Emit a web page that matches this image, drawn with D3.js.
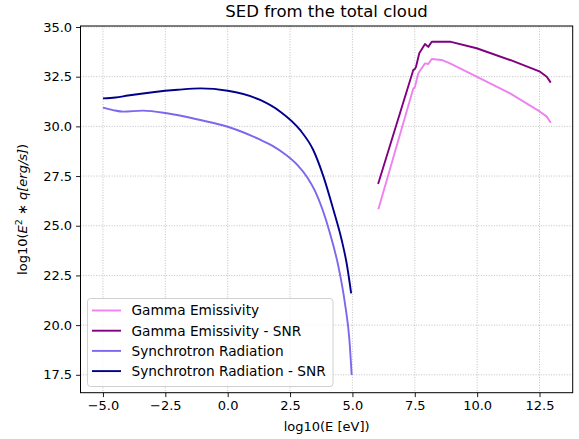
<!DOCTYPE html>
<html>
<head>
<meta charset="utf-8">
<script src="https://cdn.jsdelivr.net/npm/d3@7"></script>
<style>
  html, body { margin: 0; padding: 0; background: #fff; }
  svg { display: block; font-family: "DejaVu Sans", sans-serif; }
</style>
</head>
<body>
<div id="chart"></div>
<script>
// ---- data ----
const title = "SED from the total cloud";
const xLabel = "log10(E [eV])";
const seriesNames = ["Gamma Emissivity", "Gamma Emissivity - SNR", "Synchrotron Radiation", "Synchrotron Radiation - SNR"];
const seriesColors = ["violet", "purple", "mediumslateblue", "darkblue"];

const gammaX = [6.04, 7.44, 7.5, 7.64, 7.91, 8.04, 8.18, 8.58, 8.91, 9.98, 11.32, 12.52, 12.79, 12.95];
const gammaY = [25.83, 31.91, 31.95, 32.67, 33.17, 33.14, 33.39, 33.34, 33.17, 32.5, 31.66, 30.74, 30.49, 30.18];

const gammaSnrX = [6.03, 7.44, 7.5, 7.55, 7.68, 7.91, 8.04, 8.18, 8.91, 9.98, 11.32, 12.52, 12.79, 12.95];
const gammaSnrY = [27.1, 32.84, 32.88, 33.0, 33.68, 34.14, 34.0, 34.26, 34.26, 33.93, 33.34, 32.75, 32.5, 32.2];

const synchX = [-5, -4.6, -4.18, -3.4, -2.44, -1.1, 0, 1.3, 1.8, 2.3, 2.8, 3.2, 3.5, 4.1, 4.44, 4.7, 4.88, 4.97];
const synchY = [30.94, 30.82, 30.74, 30.79, 30.66, 30.32, 29.98, 29.33, 29.02, 28.6, 28.05, 27.42, 26.75, 24.62, 22.94, 21.1, 19.25, 17.49];

const synchSnrX = [-5, -4.5, -4, -3, -2, -1.1, 0, 1.3, 2.11, 2.9, 3.43, 3.84, 4.24, 4.57, 4.77, 4.95];
const synchSnrY = [31.41, 31.45, 31.55, 31.72, 31.84, 31.91, 31.79, 31.33, 30.74, 29.82, 28.81, 27.47, 25.79, 24.28, 23.1, 21.6];

const xTicks = [-5.0, -2.5, 0.0, 2.5, 5.0, 7.5, 10.0, 12.5];
const yTicks = [17.5, 20.0, 22.5, 25.0, 27.5, 30.0, 32.5, 35.0];

// ---- layout ----
const W = 579, H = 439;
const plot = { left: 80.5, right: 572.7, top: 26, bottom: 392.7 };

const svg = d3.select("#chart").append("svg").attr("width", W).attr("height", H);

const x = d3.scaleLinear().domain([-5.9, 13.83]).range([plot.left, plot.right]);
const y = d3.scaleLinear().domain([16.6, 35.05]).range([plot.bottom, plot.top]);

// grid
const grid = svg.append("g");
grid.selectAll("line.gx").data(xTicks).join("line")
  .attr("x1", d => x(d)).attr("x2", d => x(d))
  .attr("y1", plot.top).attr("y2", plot.bottom)
  .attr("stroke", "#b0b0b0").attr("stroke-width", 0.8).attr("stroke-dasharray", "1,1.6");
grid.selectAll("line.gy").data(yTicks).join("line")
  .attr("y1", d => y(d)).attr("y2", d => y(d))
  .attr("x1", plot.left).attr("x2", plot.right)
  .attr("stroke", "#b0b0b0").attr("stroke-width", 0.8).attr("stroke-dasharray", "1,1.6");

// lines
const series = [
  { xs: gammaX, ys: gammaY, curve: d3.curveLinear },
  { xs: gammaSnrX, ys: gammaSnrY, curve: d3.curveLinear },
  { xs: synchX, ys: synchY, curve: d3.curveMonotoneX },
  { xs: synchSnrX, ys: synchSnrY, curve: d3.curveMonotoneX }
];
series.forEach((s, i) => {
  const pts = s.xs.map((v, j) => [v, s.ys[j]]);
  const line = d3.line().x(d => x(d[0])).y(d => y(d[1])).curve(s.curve);
  svg.append("path").datum(pts)
    .attr("d", line)
    .attr("fill", "none")
    .attr("stroke", seriesColors[i])
    .attr("stroke-width", 1.9)
    .attr("stroke-linejoin", "round")
    .attr("stroke-linecap", "butt");
});

// axes
const fmt = d => d3.format(".1f")(d).replace("-", "\u2212");
const xAxis = svg.append("g").attr("transform", `translate(0,${plot.bottom})`)
  .call(d3.axisBottom(x).tickValues(xTicks).tickFormat(fmt).tickSize(4.4).tickPadding(4));
const yAxis = svg.append("g").attr("transform", `translate(${plot.left},0)`)
  .call(d3.axisLeft(y).tickValues(yTicks).tickFormat(fmt).tickSize(4.4).tickPadding(4));
[xAxis, yAxis].forEach(a => {
  a.select(".domain").remove();
  a.selectAll(".tick line").attr("stroke", "#000").attr("stroke-width", 0.9);
  a.selectAll(".tick text").attr("fill", "#000").style("font-size", "13px").style("font-family", "DejaVu Sans");
});

// spines
svg.append("rect")
  .attr("x", plot.left).attr("y", plot.top)
  .attr("width", plot.right - plot.left).attr("height", plot.bottom - plot.top)
  .attr("fill", "none").attr("stroke", "#000").attr("stroke-width", 1);

// title
svg.append("text").attr("x", (plot.left + plot.right) / 2).attr("y", 17)
  .attr("text-anchor", "middle").style("font-size", "16.5px").attr("fill", "#000")
  .text(title);

// x label
svg.append("text").attr("x", (plot.left + plot.right) / 2).attr("y", 431)
  .attr("text-anchor", "middle").style("font-size", "13px").attr("fill", "#000")
  .text(xLabel);

// y label (mathtext-like)
const yl = svg.append("text")
  .attr("transform", `translate(27,${(plot.top + plot.bottom) / 2}) rotate(-90)`)
  .attr("text-anchor", "middle").style("font-size", "13px").attr("fill", "#000");
yl.append("tspan").text("log10(");
yl.append("tspan").style("font-style", "italic").text("E");
yl.append("tspan").attr("dy", -5).style("font-size", "9.5px").text("2");
yl.append("tspan").attr("dy", 5).text(" \u2217 ");
yl.append("tspan").style("font-style", "italic").text("q[erg/s]");
yl.append("tspan").text(")");

// legend
const lg = svg.append("g");
const lgBox = { x: 87.5, y: 298.5, w: 245.5, h: 88 };
lg.append("rect").attr("x", lgBox.x).attr("y", lgBox.y).attr("width", lgBox.w).attr("height", lgBox.h)
  .attr("rx", 3).attr("fill", "#fff").attr("fill-opacity", 0.8).attr("stroke", "#d0d0d0").attr("stroke-width", 1);
seriesNames.forEach((n, i) => {
  const cy = 310.5 + i * 20.2;
  lg.append("line").attr("x1", 92).attr("x2", 121).attr("y1", cy).attr("y2", cy)
    .attr("stroke", seriesColors[i]).attr("stroke-width", 1.9);
  lg.append("text").attr("x", 131.5).attr("y", cy + 4.8).style("font-size", "13.7px").attr("fill", "#000").text(n);
});
</script>
</body>
</html>
